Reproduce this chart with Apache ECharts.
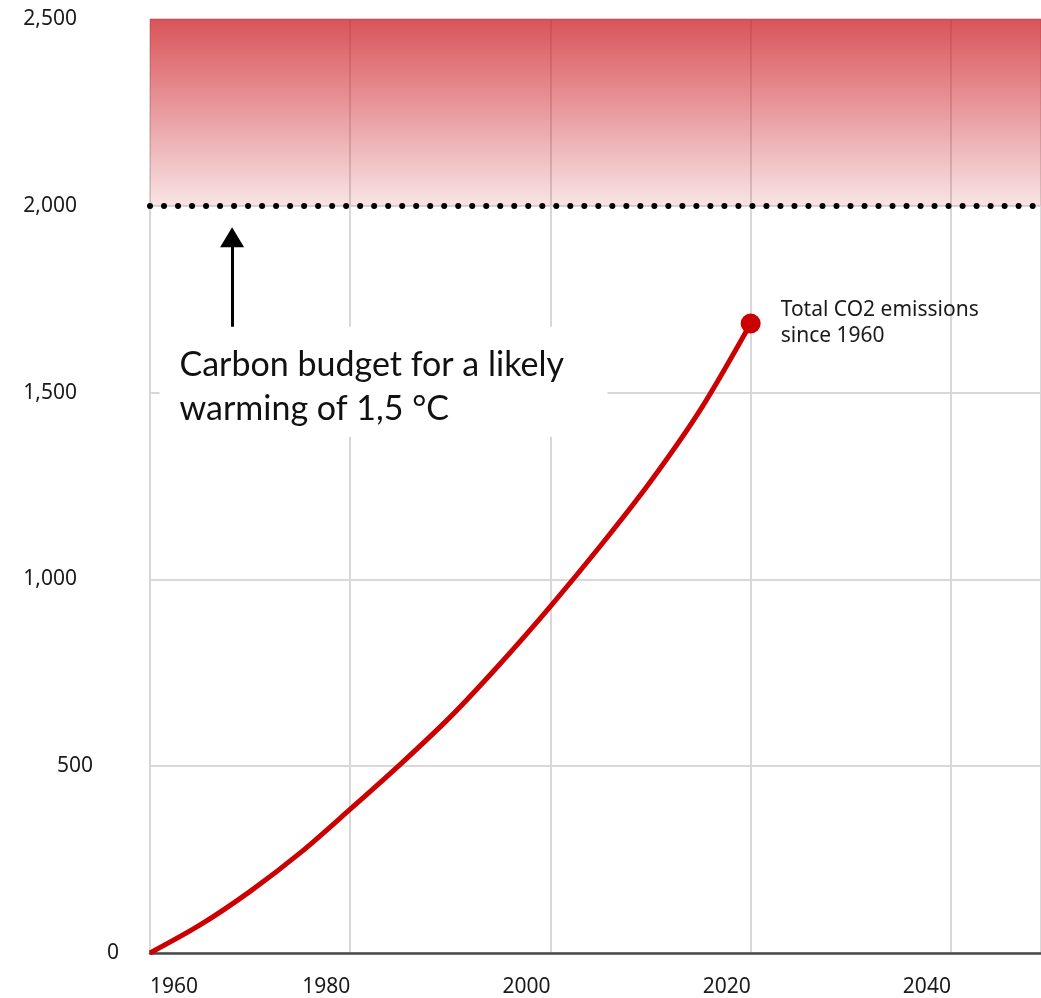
<!DOCTYPE html>
<html><head><meta charset="utf-8">
<script src="https://cdn.jsdelivr.net/npm/echarts@6/dist/echarts.min.js"></script>
<style>html,body{margin:0;padding:0;background:#fff}#c{width:1041px;height:998px}</style>
</head><body><div id="c"></div>
<script>
// ---- data ----
const years = [1960, 1965, 1970, 1975, 1980, 1985, 1990, 1995, 2000, 2005, 2010, 2015, 2020];
const emissions = [0, 75, 165, 268, 385, 505, 632, 775, 928, 1090, 1262, 1455, 1685];
const xTickLabels = [1980, 2000, 2020, 2040];
const xFirstLabel = [1960];
const yUpperLabels = [1000, 1500, 2000, 2500];
const yMidLabel = [500];
const yZeroLabel = [0];
const carbonBudget = 2000;
const bandTop = 2500;
const arrowYear = 1968.2;
const arrowFrom = 1675;
const arrowTo = 1916;
const noteAnchor = [1961, 1675];
const noteText = 'Carbon budget for a likely\nwarming of 1,5 °C';
const pointText = 'Total CO2 emissions\nsince 1960';

const FONT = 'Noto Sans';
const fmt = v => Number(v).toLocaleString('en-US');

function yAx(labels, margin, split) {
  return {
    type: 'value', min: 0, max: 2500, interval: 500, position: 'left',
    axisLine: { show: false }, axisTick: { show: false },
    splitLine: { show: split, lineStyle: { color: '#d8d8d8', width: 2 } },
    axisLabel: { customValues: labels, margin: margin, align: 'right', fontSize: 21, color: '#1a1a1a', fontFamily: FONT, formatter: fmt }
  };
}

const chart = echarts.init(document.getElementById('c'));
chart.setOption({
  backgroundColor: '#fff',
  animation: false,
  grid: { left: 150, right: 0, top: 19, bottom: 45, containLabel: false },
  xAxis: [
    {
      type: 'value', min: 1960, max: 2049, interval: 20, position: 'bottom',
      axisLine: { show: true, lineStyle: { color: '#4a4a4a', width: 2.5 } },
      axisTick: { show: false },
      splitLine: { show: true, lineStyle: { color: '#d8d8d8', width: 2 } },
      axisLabel: { customValues: xTickLabels, align: 'right', margin: 24, fontSize: 21, color: '#1a1a1a', fontFamily: FONT, formatter: v => String(v) }
    },
    {
      type: 'value', min: 1960, max: 2049, interval: 20, position: 'bottom',
      axisLine: { show: false }, axisTick: { show: false }, splitLine: { show: false },
      axisLabel: { customValues: xFirstLabel, align: 'left', margin: 24, fontSize: 21, color: '#1a1a1a', fontFamily: FONT, formatter: v => String(v) }
    }
  ],
  yAxis: [
    yAx(yUpperLabels, 73, true),
    yAx(yMidLabel, 57, false),
    yAx(yZeroLabel, 31, false)
  ],
  series: [
    {
      type: 'line',
      xAxisIndex: 0, yAxisIndex: 0,
      data: years.map((y, i) => [y, emissions[i]]),
      smooth: 0.3,
      showSymbol: false,
      lineStyle: { color: '#cc0000', width: 5 },
      z: 4,
      markArea: {
        silent: true,
        itemStyle: {
          color: { type: 'linear', x: 0, y: 0, x2: 0, y2: 1, colorStops: [
            { offset: 0, color: 'rgba(205,30,38,0.76)' },
            { offset: 1, color: 'rgba(205,30,38,0.12)' }
          ] }
        },
        data: [[{ yAxis: bandTop }, { yAxis: carbonBudget }]]
      },
      markLine: {
        silent: true,
        symbol: ['none', 'none'],
        label: { show: false },
        z: 6,
        data: [
          { yAxis: carbonBudget, lineStyle: { color: '#000', width: 6, type: [0.01, 14], cap: 'round' } },
          [
            { coord: [arrowYear, arrowFrom], symbol: 'none', lineStyle: { color: '#000', width: 3, type: 'solid' } },
            { coord: [arrowYear, arrowTo], symbol: 'triangle', symbolSize: [24, 20] }
          ]
        ]
      },
      markPoint: {
        silent: true,
        z: 10,
        data: [{
          coord: noteAnchor, symbol: 'rect', symbolSize: 1,
          itemStyle: { color: 'rgba(0,0,0,0)' },
          label: {
            show: true, position: [0, 0], formatter: noteText,
            backgroundColor: '#fff', padding: [16, 0, 6, 20], width: 428,
            fontSize: 34, lineHeight: 44, fontFamily: 'Lato', color: '#111'
          }
        }]
      }
    },
    {
      type: 'scatter',
      xAxisIndex: 0, yAxisIndex: 0,
      data: [[years[years.length - 1], emissions[emissions.length - 1]]],
      symbolSize: 20,
      itemStyle: { color: '#cc0000', opacity: 1 },
      z: 5,
      label: {
        show: true, position: 'right', distance: 20, formatter: pointText,
        fontSize: 21, lineHeight: 26, color: '#1a1a1a', fontFamily: FONT
      }
    }
  ]
});
</script></body></html>
